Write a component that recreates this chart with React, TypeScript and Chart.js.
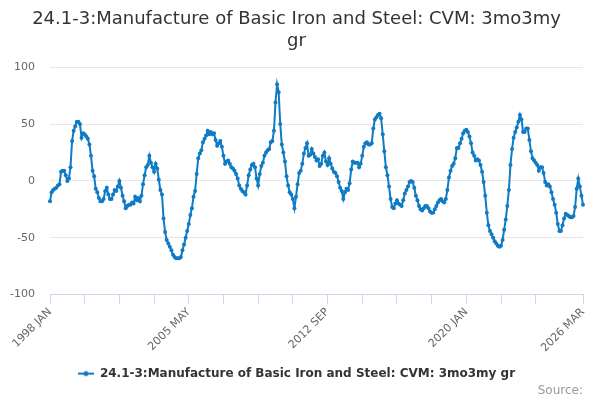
import React, { useEffect, useRef } from 'react';
import { Chart, registerables } from 'chart.js';

Chart.register(...registerables);

const titleLines = ['24.1-3:Manufacture of Basic Iron and Steel: CVM: 3mo3my', 'gr'];
const seriesName = '24.1-3:Manufacture of Basic Iron and Steel: CVM: 3mo3my gr';
const sourceText = 'Source:';

const monthNames = ['JAN', 'FEB', 'MAR', 'APR', 'MAY', 'JUN', 'JUL', 'AUG', 'SEP', 'OCT', 'NOV', 'DEC'];
const firstYear = 1998;
const lastYear = 2026;
const lastMonthCount = 3;

// Monthly values (3mo3my growth, %)
const values1998to2001 = [
  -18, -10, -8, -7, -6, -4, -3, 8, 9, 9, 5, 0,
  2, 12, 35, 44, 48, 52, 52, 50, 38, 42, 41, 39,
  37, 32, 22, 9, 4, -7, -10, -15, -18, -18, -16, -9,
  -6, -12, -16, -16, -12, -8, -9, -5, 0, -6, -13, -18,
];
const values2002to2005 = [
  -24, -22, -21, -21, -19, -20, -14, -17, -15, -18, -13, -3,
  5, 12, 14, 22, 16, 12, 8, 15, 11, 1, -8, -12,
  -33, -45, -52, -55, -58, -61, -65, -67, -68, -68, -68, -67,
  -61, -56, -50, -44, -38, -30, -24, -14, -9, 6, 20, 24,
];
const values2006to2009 = [
  27, 34, 37, 40, 44, 41, 43, 41, 42, 36, 31, 33,
  35, 30, 22, 15, 17, 18, 15, 12, 11, 9, 6, 2,
  -4, -7, -9, -10, -12, -4, 5, 10, 14, 15, 12, 2,
  -4, 6, 13, 16, 22, 25, 27, 28, 34, 35, 44, 69,
];
const values2010to2013 = [
  85, 78, 50, 32, 25, 17, 4, -4, -10, -12, -16, -24,
  -14, -3, 7, 9, 15, 24, 29, 33, 22, 23, 28, 24,
  21, 18, 19, 13, 15, 22, 25, 17, 14, 20, 15, 11,
  8, 7, 4, -1, -6, -9, -16, -10, -7, -8, -2, 10,
];
const values2014to2017 = [
  17, 16, 16, 16, 12, 15, 22, 30, 33, 34, 32, 32,
  33, 46, 54, 56, 58, 59, 55, 41, 26, 12, 5, -5,
  -16, -23, -24, -20, -17, -20, -21, -22, -17, -11, -8, -5,
  -1, 0, -1, -6, -13, -17, -22, -25, -26, -24, -22, -22,
];
const values2018to2021 = [
  -24, -27, -28, -28, -25, -22, -19, -17, -16, -18, -19, -16,
  -8, 3, 9, 13, 15, 20, 29, 29, 33, 37, 42, 44,
  45, 43, 39, 33, 25, 22, 18, 19, 18, 14, 8, -1,
  -13, -28, -39, -44, -47, -50, -53, -55, -57, -58, -57, -52,
];
const values2022to2026 = [
  -43, -34, -22, -8, 14, 28, 38, 43, 47, 52, 58, 54,
  43, 43, 46, 46, 36, 26, 20, 18, 16, 14, 9, 12,
  12, 7, -1, -4, -3, -5, -10, -16, -21, -28, -38, -44,
  -44, -39, -33, -29, -30, -31, -32, -32, -31, -23, -7, 2,
  -5, -13, -21,
];

const tickCategories = [
  '1998 JAN', '1999 NOV', '2001 SEP', '2003 JUL', '2005 MAY', '2007 MAR', '2009 JAN', '2010 NOV',
  '2012 SEP', '2014 JUL', '2016 MAY', '2018 MAR', '2020 JAN', '2021 NOV', '2023 SEP', '2026 MAR',
];
const labelledCategories = ['1998 JAN', '2005 MAY', '2012 SEP', '2020 JAN', '2026 MAR'];

const yTicks = [-100, -50, 0, 50, 100];

const categories: string[] = [];
for (let y = firstYear; y <= lastYear; y++) {
  for (let m = 0; m < 12; m++) {
    if (y === lastYear && m >= lastMonthCount) break;
    categories.push(`${y} ${monthNames[m]}`);
  }
}

const seriesValues = [
  ...values1998to2001,
  ...values2002to2005,
  ...values2006to2009,
  ...values2010to2013,
  ...values2014to2017,
  ...values2018to2021,
  ...values2022to2026,
];

const LINE_COLOR = '#0f7bc4';
const FONT = 'DejaVu Sans';

function makeLegendSymbol(): HTMLCanvasElement {
  const c = document.createElement('canvas');
  c.width = 16;
  c.height = 8;
  const ctx = c.getContext('2d')!;
  ctx.strokeStyle = LINE_COLOR;
  ctx.lineWidth = 2;
  ctx.beginPath();
  ctx.moveTo(0, 4);
  ctx.lineTo(16, 4);
  ctx.stroke();
  ctx.fillStyle = LINE_COLOR;
  ctx.beginPath();
  ctx.arc(8, 4, 2.5, 0, Math.PI * 2);
  ctx.fill();
  return c;
}

export default function App() {
  const canvasRef = useRef<HTMLCanvasElement | null>(null);

  useEffect(() => {
    if (!canvasRef.current) return;
    const symbol = makeLegendSymbol();
    const chart = new Chart(canvasRef.current, {
      type: 'line',
      data: {
        labels: categories,
        datasets: [
          {
            label: seriesName,
            data: seriesValues,
            borderColor: LINE_COLOR,
            backgroundColor: LINE_COLOR,
            borderWidth: 2,
            pointRadius: 2,
            pointBorderWidth: 0,
            pointBackgroundColor: LINE_COLOR,
            tension: 0,
          },
        ],
      },
      options: {
        animation: false,
        responsive: false,
        layout: { padding: { left: 10, right: 17, top: 0, bottom: 0 } },
        plugins: {
          title: {
            display: true,
            text: titleLines,
            color: '#333333',
            font: { family: FONT, size: 18, weight: 'normal', lineHeight: 1.2 },
            padding: { top: 9, bottom: 15 },
          },
          subtitle: {
            display: true,
            position: 'bottom',
            align: 'end',
            text: sourceText,
            color: '#999999',
            font: { family: FONT, size: 12, weight: 'normal', lineHeight: 1.2 },
            padding: { top: -6, bottom: 2 },
          },
          legend: {
            display: true,
            position: 'bottom',
            labels: {
              usePointStyle: true,
              pointStyleWidth: 16,
              padding: 11,
              color: '#333333',
              font: { family: FONT, size: 12, weight: 'bold' },
              generateLabels: () => [
                {
                  text: seriesName,
                  fillStyle: LINE_COLOR,
                  strokeStyle: LINE_COLOR,
                  lineWidth: 2,
                  pointStyle: symbol,
                  hidden: false,
                  datasetIndex: 0,
                  fontColor: '#333333',
                },
              ],
            },
          },
          tooltip: { enabled: false },
        },
        scales: {
          x: {
            type: 'category',
            offset: false,
            afterBuildTicks: (scale: any) => {
              scale.ticks = tickCategories.map((c) => ({ value: categories.indexOf(c) }));
            },
            afterFit: (scale: any) => {
              scale.paddingLeft = 0;
              scale.paddingRight = 0;
            },
            ticks: {
              autoSkip: false,
              maxRotation: 45,
              minRotation: 45,
              color: '#666666',
              font: { family: FONT, size: 11 },
              padding: 2,
              callback: (value: any) => {
                const c = categories[value as number];
                return labelledCategories.includes(c) ? c : '';
              },
            },
            grid: {
              display: true,
              drawOnChartArea: false,
              drawTicks: true,
              tickLength: 9,
              color: '#ccd6eb',
              lineWidth: 1,
            },
            border: { display: true, color: '#ccd6eb', width: 1 },
          },
          y: {
            min: -100,
            max: 100,
            afterBuildTicks: (scale: any) => {
              scale.ticks = yTicks.map((v) => ({ value: v }));
            },
            afterFit: (scale: any) => {
              scale.width = 40;
            },
            ticks: {
              color: '#666666',
              font: { family: FONT, size: 11 },
              padding: 15,
            },
            grid: {
              color: '#e6e6e6',
              lineWidth: 1,
              drawTicks: false,
            },
            border: { display: false },
          },
        },
      },
    });
    return () => chart.destroy();
  }, []);

  return (
    <div style={{ position: 'fixed', left: 0, top: 0, width: 600, height: 400, background: '#ffffff' }}>
      <canvas ref={canvasRef} width={600} height={400} />
    </div>
  );
}
